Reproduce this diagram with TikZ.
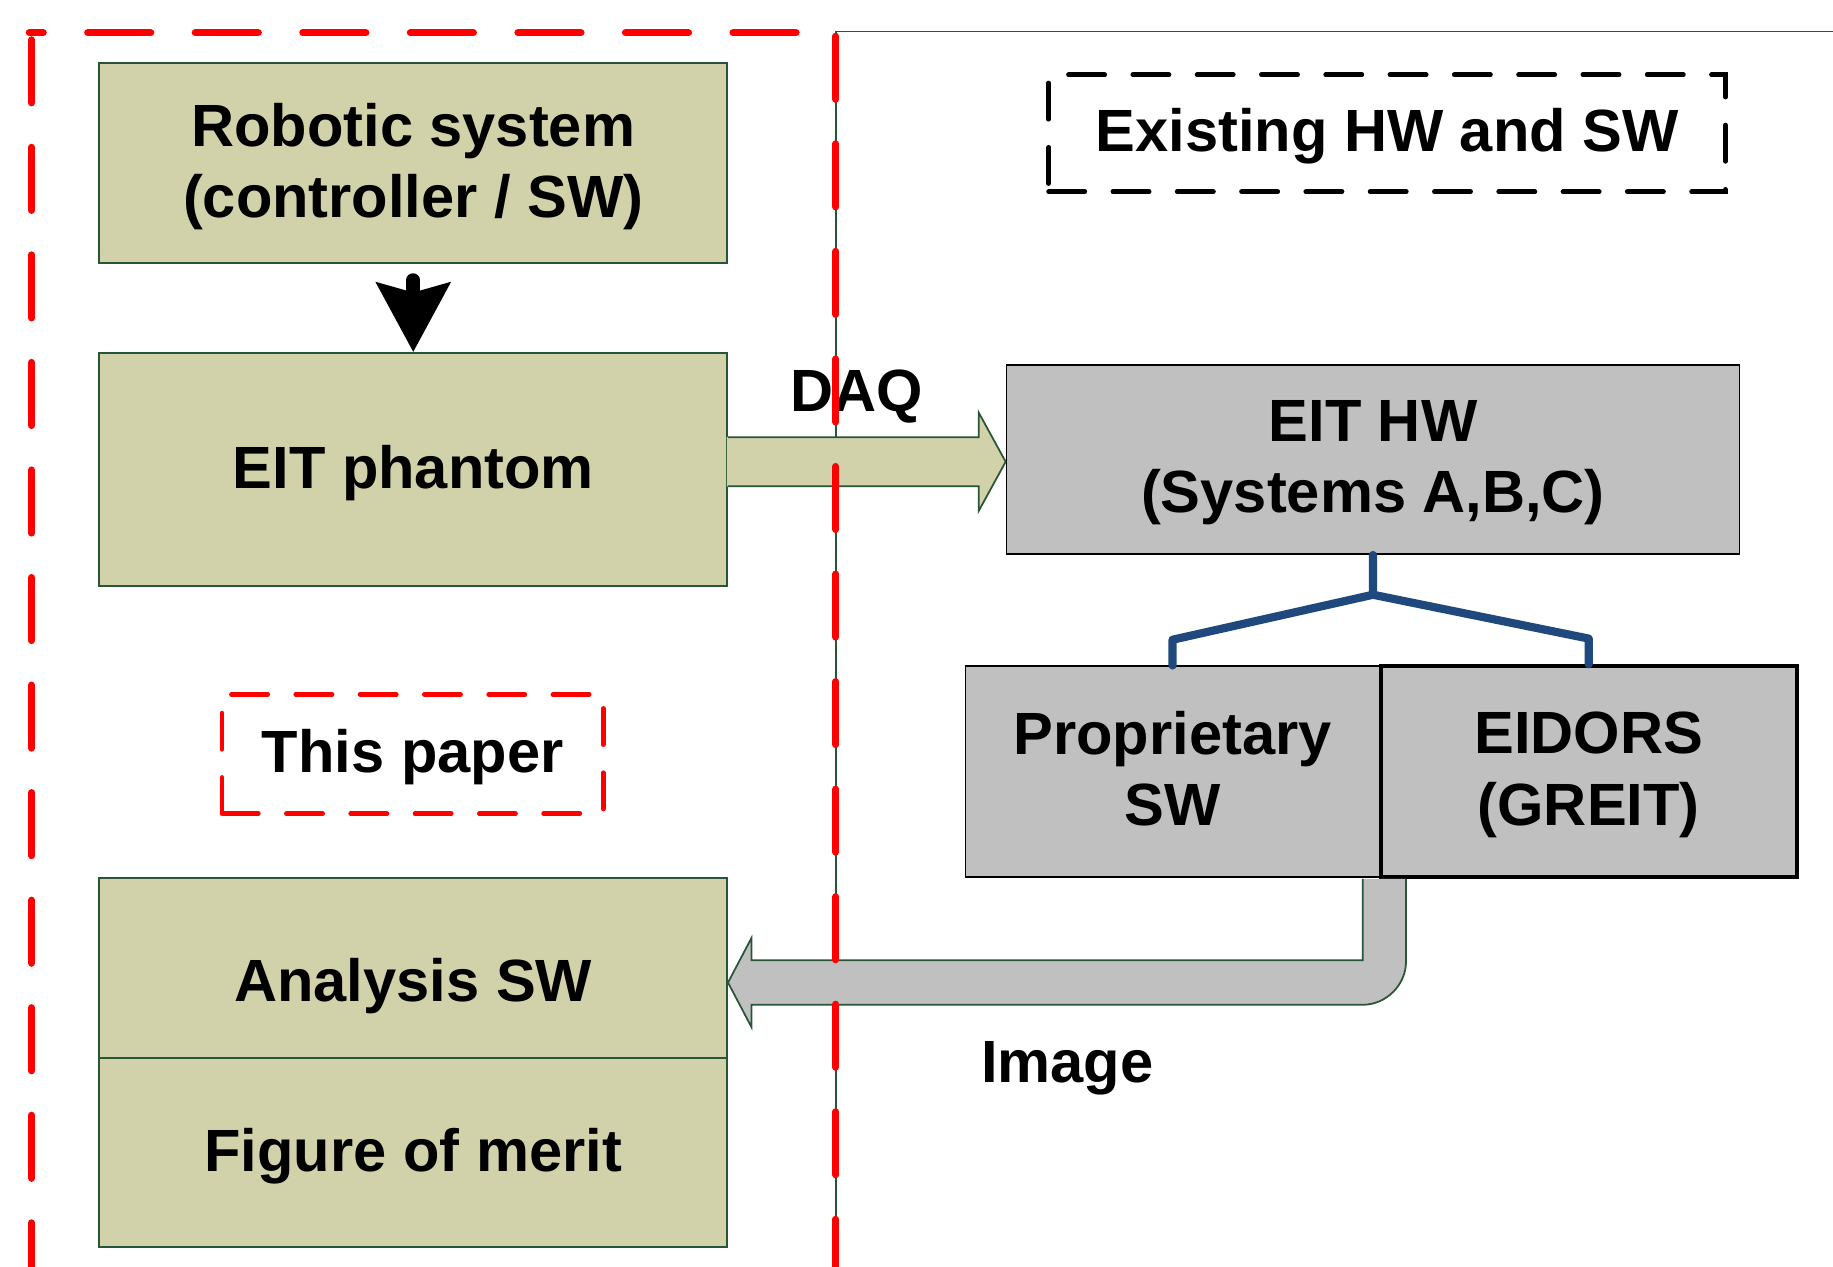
\documentclass[tikz,border=0pt]{standalone}
\usepackage{fontspec}
\setmainfont{Liberation Sans}
\usetikzlibrary{calc,arrows.meta}
\definecolor{tanfill}{RGB}{210,210,170}
\definecolor{bgreen}{RGB}{40,85,55}
\definecolor{gboxfill}{RGB}{192,192,192}
\definecolor{dblue}{RGB}{31,73,125}
\definecolor{pred}{RGB}{255,0,0}
\begin{document}
\begin{tikzpicture}[x=1pt,y=-1pt,
  lbl/.style={font=\fontsize{51}{61}\selectfont\bfseries, align=center, inner sep=0pt},
  boxtext/.style={lbl, text depth=5pt},
  tanbox/.style={boxtext, rectangle, draw=bgreen, line width=1.5pt, fill=tanfill},
  graybox/.style={boxtext, rectangle, draw=black, line width=1.5pt, fill=gboxfill},
  smalldash/.style={line width=4pt, line cap=round, dash pattern=on 31pt off 24pt},
  reddash/.style={draw=pred, line width=6pt, line cap=round, dash pattern=on 54pt off 38pt},
  blockarrow/.style={draw=bgreen, line width=1.5pt, line join=miter},
  joinline/.style={draw=dblue, line width=7pt, line join=round, line cap=round}
]
\fill[white] (0,0) rectangle (1568,1083);
\useasboundingbox (0,0) rectangle (1568,1083);

% left column boxes
\node[tanbox, minimum width=537pt, minimum height=171pt] (robot) at (353.5,139.5) {Robotic system\\(controller / SW)};
\node[tanbox, minimum width=537pt, minimum height=199pt] (phantom) at (353.5,401.5) {EIT phantom};
\node[tanbox, minimum width=537pt, minimum height=179pt] (analysis) at (353.5,840.5) {Analysis SW};
\node[tanbox, minimum width=537pt, minimum height=162pt] (merit) at (353.5,986) {Figure of merit};
\node[boxtext, rectangle, draw=pred, smalldash, minimum width=326pt, minimum height=102pt] (paper) at (353,645) {This paper};

% right column boxes
\node[boxtext, rectangle, draw=black, smalldash, minimum width=579pt, minimum height=100pt] (existing) at (1186.5,114) {Existing HW and SW};
\node[graybox, minimum width=627pt, minimum height=162pt] (eithw) at (1174.5,393) {EIT HW\\(Systems A,B,C)};
\node[graybox, minimum width=354pt, minimum height=180pt] (prop) at (1003,660) {Proprietary\\SW};
\node[graybox, line width=3.5pt, minimum width=356pt, minimum height=180pt] (eidors) at (1359,660) {EIDORS\\(GREIT)};

% labels
\node[lbl, anchor=base] (daq) at (733,352) {DAQ};
\node[lbl, anchor=base] (img) at (913,926) {Image};

% region border (existing HW/SW)
\draw[bgreen, line width=1.5pt] (715,1090) -- (715,27) -- (1580,27);

% DAQ block arrow
\coordinate (tipd) at ($(eithw.west)+(0,2)$);
\coordinate (dq) at (phantom.east |- tipd);
\fill[tanfill] ($(dq)+(-1,-21)$) -- ($(tipd)+(-23,-21)$) -- ($(tipd)+(-23,-42)$) -- (tipd)
  -- ($(tipd)+(-23,42)$) -- ($(tipd)+(-23,21)$) -- ($(dq)+(-1,21)$) -- cycle;
\draw[blockarrow] ($(dq)+(0,-21)$) -- ($(tipd)+(-23,-21)$) -- ($(tipd)+(-23,-42)$) -- (tipd)
  -- ($(tipd)+(-23,42)$) -- ($(tipd)+(-23,21)$) -- ($(dq)+(0,21)$);

% Image block arrow
\coordinate (ic) at (prop.south east);
\coordinate (iA) at ($(ic)+(-15,0)$);
\coordinate (iB) at ($(ic |- analysis.east)+(-15,-19)$);
\coordinate (iC) at ($(analysis.east)+(20,-19)$);
\coordinate (iD) at ($(analysis.east)+(20,-38)$);
\coordinate (iF) at ($(analysis.east)+(20,38)$);
\coordinate (iG) at ($(analysis.east)+(20,19)$);
\coordinate (iH) at ($(ic |- analysis.east)+(-15,19)$);
\coordinate (iI) at ($(ic |- analysis.east)+(22,-18)$);
\coordinate (iJ) at ($(ic)+(22,0)$);
\fill[gboxfill] ($(iA)+(0,1)$) -- (iB) -- (iC) -- (iD) -- (analysis.east) -- (iF) -- (iG) -- (iH)
  .. controls +(20,0) and +(0,20) .. (iI) -- ($(iJ)+(0,1)$) -- cycle;
\draw[blockarrow] ($(iA)+(0,1)$) -- (iB) -- (iC) -- (iD) -- (analysis.east) -- (iF) -- (iG) -- (iH)
  .. controls +(20,0) and +(0,20) .. (iI) -- ($(iJ)+(0,1)$);

% split connector
\coordinate (bj) at ($(eithw.south)+(0,34)$);
\draw[joinline] (eithw.south) -- (bj) -- ($(prop.north)+(0,-22)$) -- (prop.north);
\draw[joinline] (bj) -- ($(eidors.north)+(0,-22)$) -- (eidors.north);

% robot -> phantom arrow
\draw[line width=12pt, line cap=round, -{Stealth[length={59pt 0}, width={62pt 0}, inset={8pt 0}]}]
  ($(robot.south)+(0,14)$) -- (phantom.north);

% red dashed "this paper" region
\draw[reddash, dash phase=58pt] (715,28) -- (25,28);
\draw[reddash] (27,34) -- (27,1090);
\draw[reddash] (715,31) -- (715,1090);
\end{tikzpicture}
\end{document}
